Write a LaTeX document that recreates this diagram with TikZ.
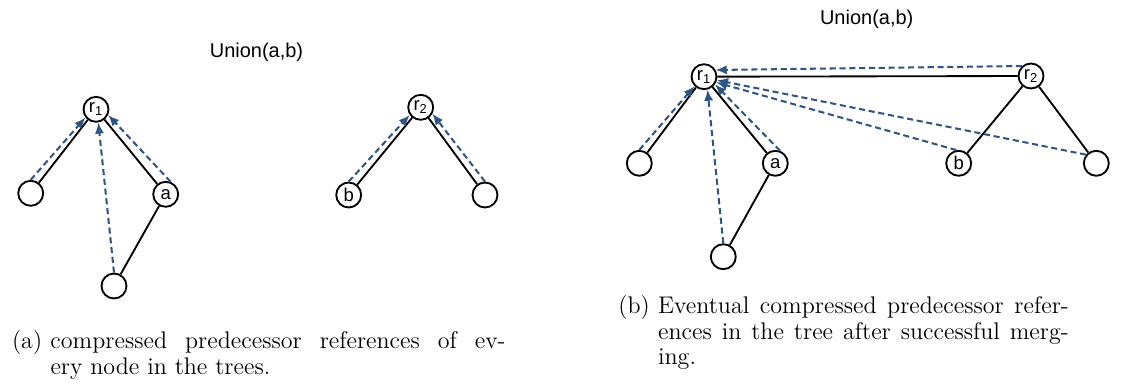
\documentclass[tikz,border=0pt]{standalone}
\usepackage{fontspec}
\newfontfamily\helv{Liberation Sans}
\usetikzlibrary{arrows,arrows.meta,shapes,positioning}
\definecolor{refblue}{RGB}{47,85,130}

\begin{document}
\begin{tikzpicture}[scale=0.19]
                    \tikzstyle{every node}+=[inner sep=0pt]
                    \tikzstyle{vertex}=[draw=black, circle, line width=1pt, minimum size=13.5pt, font=\helv\fontsize{10}{10}\selectfont]
                    \tikzstyle{edge}=[black, line width=1pt]
                    \tikzstyle{ref}=[refblue, line width=1.1pt, dash pattern=on 3.3pt off 2pt, -{Latex[length=6pt,width=5pt]}]
                    \tikzstyle{title}=[font=\helv\fontsize{10.8}{13}\selectfont]
                    \tikzstyle{caption}=[anchor=base west, font=\fontsize{13}{13.6}\selectfont]
                    \useasboundingbox (0,0) rectangle (112.6,-38.7);
                    \node [title] (ua) at (25.65,-5.2) {Union(a,b)};
                    \node [vertex] (r1) at (9.6,-10.93) {r\textsubscript{1}};
                    \node [vertex] (x1) at (3.07,-19.33) {};
                    \node [vertex] (a) at (16.57,-19.43) {a};
                    \node [vertex] (x2) at (11.4,-28.6) {};
                    \node [vertex] (r2) at (42.07,-10.73) {r\textsubscript{2}};
                    \node [vertex] (b) at (34.87,-19.5) {b};
                    \node [vertex] (x3) at (48.5,-19.5) {};
                    \draw [edge] (r1) -- (x1);
                    \draw [edge] (r1) -- (a);
                    \draw [edge] (a) -- (x2);
                    \draw [edge] (r2) -- (b);
                    \draw [edge] (r2) -- (x3);
                    \draw [ref] (x1.north) -- (r1.218);
                    \draw [ref] (a.68) -- (r1.335);
                    \draw [ref] (x2.north) -- (r1.280);
                    \draw [ref] (b.north) -- (r2.215);
                    \draw [ref] (x3.north) -- (r2.331);
                    \node [caption] (capa) at (1.17,-34.9) {\begin{tabular}[t]{@{}l@{\hspace{4.5pt}}p{246pt}@{}}(a) & compressed predecessor references of ev-\linebreak ery node in the trees.\end{tabular}};
                    \node [title] (ub) at (86.67,-1.93) {Union(a,b)};
                    \node [vertex] (s1) at (70.4,-7.67) {r\textsubscript{1}};
                    \node [vertex] (y1) at (63.93,-16.33) {};
                    \node [vertex] (c) at (77.53,-16.33) {a};
                    \node [vertex] (y2) at (72.33,-25.67) {};
                    \node [vertex] (s2) at (103.1,-7.6) {r\textsubscript{2}};
                    \node [vertex] (d) at (95.87,-16.33) {b};
                    \node [vertex] (y3) at (109.63,-16.33) {};
                    \draw [edge] (s1) -- (y1);
                    \draw [edge] (s1) -- (c);
                    \draw [edge] (c) -- (y2);
                    \draw [edge] (s1) -- (s2);
                    \draw [edge] (s2) -- (d);
                    \draw [edge] (s2) -- (y3);
                    \draw [ref] (y1.north) -- (s1.225);
                    \draw [ref] (c.69) -- (s1.325);
                    \draw [ref] (y2.north) -- (s1.285);
                    \draw [ref] (s2.132) -- (s1.30);
                    \draw [ref] (d.100) -- (s1.335);
                    \draw [ref] (y3.140) -- (s1.345);
                    \node [caption] (capb) at (61.8,-31.4) {\begin{tabular}[t]{@{}l@{\hspace{4.5pt}}p{222pt}@{}}(b) & Eventual compressed predecessor refer-\linebreak ences in the tree after successful merg-\linebreak ing.\end{tabular}};
\end{tikzpicture}
\end{document}
